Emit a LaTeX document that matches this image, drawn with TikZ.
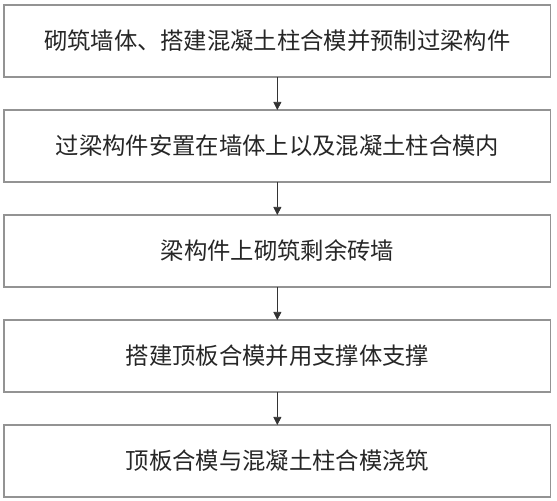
\documentclass[tikz,border=0pt]{standalone}
\usepackage{fontspec}
\newfontfamily\cjk{Noto Sans CJK SC}
\usetikzlibrary{positioning,arrows.meta}
\tikzset{stepbox/.style={draw=gray!85,line width=0.9pt,minimum width=410pt,minimum height=54pt,inner sep=0pt,outer sep=0pt,font=\cjk\fontsize{17.5}{20}\selectfont,text=black!85},
	flow/.style={-{Triangle[width=6pt,length=6pt]},line width=0.5pt,black!80}}
\begin{document}
\begin{tikzpicture}[node distance=24.75pt]
		\useasboundingbox (0,0) rectangle (417.75pt,375pt);
		\node[stepbox] (s1) at (208pt,344.25pt) {砌筑墙体、搭建混凝土柱合模并预制过梁构件};
		\node[stepbox,below=of s1] (s2) {过梁构件安置在墙体上以及混凝土柱合模内};
		\node[stepbox,below=of s2] (s3) {梁构件上砌筑剩余砖墙};
		\node[stepbox,below=of s3] (s4) {搭建顶板合模并用支撑体支撑};
		\node[stepbox,below=of s4] (s5) {顶板合模与混凝土柱合模浇筑};
		\draw[flow] (s1) -- (s2);
		\draw[flow] (s2) -- (s3);
		\draw[flow] (s3) -- (s4);
		\draw[flow] (s4) -- (s5);
		\end{tikzpicture}
\end{document}
